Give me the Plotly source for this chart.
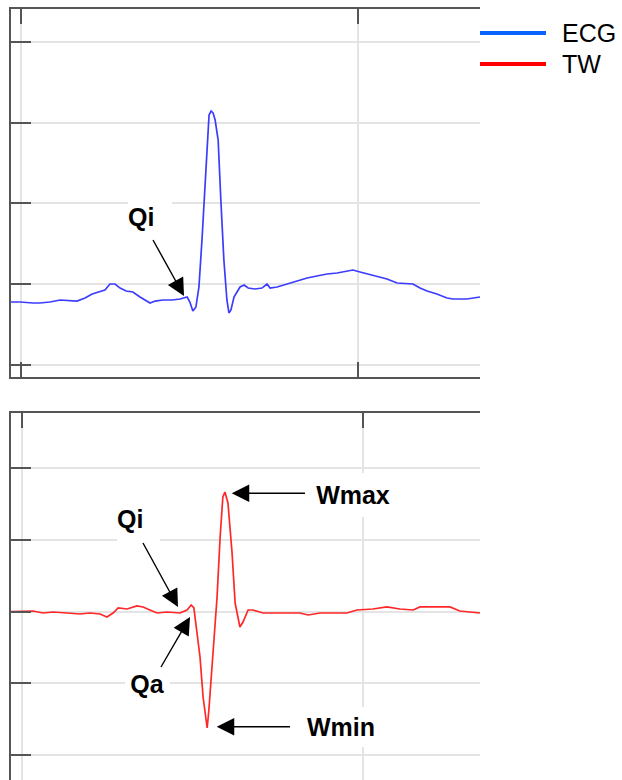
import plotly.graph_objects as go

# ---- ECG lead (top panel): time [s], amplitude [mV] ----
ecg_t = [-0.030, -0.003, 0.036, 0.056, 0.086, 0.116, 0.166, 0.190, 0.211, 0.234,
         0.249, 0.264, 0.279, 0.294, 0.312, 0.332, 0.353, 0.383, 0.398, 0.421,
         0.448, 0.472, 0.493, 0.501, 0.510, 0.519, 0.528, 0.537, 0.546, 0.552,
         0.558, 0.564, 0.570, 0.576, 0.585, 0.593, 0.602, 0.611, 0.617, 0.623,
         0.632, 0.641, 0.650, 0.662, 0.674, 0.694, 0.715, 0.730, 0.739, 0.760,
         0.789, 0.819, 0.849, 0.878, 0.908, 0.938, 0.967, 0.985, 1.006, 1.027,
         1.056, 1.086, 1.116, 1.163, 1.184, 1.205, 1.234, 1.264, 1.282, 1.323,
         1.362]
ecg_mv = [-0.223, -0.223, -0.235, -0.235, -0.223, -0.198, -0.211, -0.173, -0.124, -0.099,
          -0.074, 0.000, 0.000, -0.050, -0.087, -0.099, -0.161, -0.235, -0.211, -0.198,
          -0.198, -0.186, -0.161, -0.223, -0.334, -0.285, -0.037, 0.545, 1.251, 1.783,
          2.093, 2.140, 2.118, 2.031, 1.783, 1.040, 0.297, -0.198, -0.359, -0.322,
          -0.161, -0.099, -0.037, -0.012, -0.050, -0.062, -0.050, 0.000, -0.050, -0.037,
          0.000, 0.037, 0.074, 0.099, 0.124, 0.136, 0.161, 0.173, 0.149, 0.124,
          0.099, 0.062, 0.012, 0.000, -0.050, -0.087, -0.124, -0.173, -0.186, -0.186,
          -0.161]

# ---- TW transform of the same beat (bottom panel) ----
tw_t = [-0.032, 0.032, 0.062, 0.091, 0.132, 0.170, 0.199, 0.229, 0.249, 0.267,
        0.282, 0.308, 0.337, 0.355, 0.375, 0.396, 0.425, 0.463, 0.484, 0.496,
        0.504, 0.513, 0.522, 0.531, 0.543, 0.548, 0.560, 0.572, 0.581, 0.589,
        0.595, 0.604, 0.616, 0.625, 0.639, 0.648, 0.663, 0.677, 0.707, 0.736,
        0.777, 0.815, 0.839, 0.874, 0.953, 0.982, 1.029, 1.070, 1.108, 1.147,
        1.167, 1.205, 1.255, 1.284, 1.343]
tw_val = [0.000, 0.010, -0.018, -0.004, -0.018, -0.032, -0.018, -0.032, -0.074, -0.018,
          0.052, 0.038, 0.080, 0.066, 0.024, -0.018, -0.004, -0.018, 0.024, 0.094,
          0.052, -0.255, -0.632, -1.190, -1.622, -1.371, -0.632, 0.205, 1.042, 1.600,
          1.670, 1.516, 0.819, 0.121, -0.213, -0.144, 0.024, 0.024, -0.018, -0.018,
          -0.018, -0.018, -0.046, -0.018, -0.018, 0.024, 0.038, 0.066, 0.038, 0.024,
          0.066, 0.066, 0.066, 0.010, -0.018]

# grid ticks
x_ticks = [0, 1]
ecg_y_ticks = [-1, 0, 1, 2, 3]
tw_y_ticks = [-2, -1, 0, 1, 2]

# fiducial-point labels: (axis pair, text, x, y, box width, box height, align)
label_text = [
    ("x", "y", "Qi", 0.3828, 0.8297, 44, 46, "left"),
    ("x2", "y2", "Qi", 0.3416, 1.2929, 43, 46, "left"),
    ("x2", "y2", "Qa", 0.3680, -1.0084, 45, 34, "center"),
    ("x2", "y2", "Wmax", 0.9716, 1.6346, 84, 44, "center"),
    ("x2", "y2", "Wmin", 0.9349, -1.6081, 84, 40, "center"),
]
# arrows: (axis pair, tail x, tail y, tip x, tip y)
label_arrows = [
    ("x", "y", 0.3917, 0.545, 0.4837, -0.1486),
    ("x2", "y2", 0.3548, 0.958, 0.4575, 0.0656),
    ("x2", "y2", 0.4076, -0.771, 0.4927, -0.074),
    ("x2", "y2", 0.8299, 1.651, 0.6150, 1.651),
    ("x2", "y2", 0.7859, -1.604, 0.5710, -1.604),
]

FONT = "Arial, Liberation Sans, sans-serif"
AXIS_COL = "#555555"
GRID_COL = "#e4e4e4"

fig = go.Figure()
fig.add_trace(go.Scatter(x=ecg_t, y=ecg_mv, mode="lines", name="ECG",
                         line=dict(color="#3c3cff", width=1.7),
                         xaxis="x", yaxis="y", showlegend=False, hoverinfo="skip"))
fig.add_trace(go.Scatter(x=tw_t, y=tw_val, mode="lines", name="TW",
                         line=dict(color="#ff2828", width=1.7),
                         xaxis="x2", yaxis="y2", showlegend=False, hoverinfo="skip"))

x_dom = [11 / 622, 480 / 622]
common = dict(showticklabels=False, zeroline=False, ticks="inside",
              tickcolor=AXIS_COL, tickwidth=2, linecolor=AXIS_COL, linewidth=2,
              gridcolor=GRID_COL, gridwidth=2)

fig.update_layout(
    width=622, height=780, autosize=False,
    margin=dict(l=0, r=0, t=0, b=0),
    paper_bgcolor="white", plot_bgcolor="white",
    showlegend=False,
    xaxis=dict(domain=x_dom, anchor="y", range=[-0.0297, 1.3620], tickvals=x_ticks,
               showgrid=True, showline=True, mirror="ticks", ticklen=15, **common),
    yaxis=dict(domain=[403 / 780, 771 / 780], anchor="x", range=[-1.1517, 3.4056],
               tickvals=ecg_y_ticks, showgrid=True, showline=True, ticklen=20, **common),
    xaxis2=dict(domain=x_dom, anchor="y2", side="top", range=[-0.0323, 1.3431],
                tickvals=x_ticks, showgrid=True, showline=True, ticklen=15, **common),
    xaxis3=dict(overlaying="x2", anchor="y2", side="bottom", range=[-0.0323, 1.3431],
                tickvals=x_ticks, showgrid=False, showline=False, ticklen=13, **common),
    yaxis2=dict(domain=[0, 367 / 780], anchor="x2", range=[-2.3473, 2.7713],
                tickvals=tw_y_ticks, showgrid=True, showline=True, ticklen=20, **common),
)

annotations = []
for xr, yr, tx, tx_x, tx_y, w, h, al in label_text:
    annotations.append(dict(
        xref=xr, yref=yr, x=tx_x, y=tx_y, text="<b>" + tx + "</b>", showarrow=False,
        xanchor="center", yanchor="middle", width=w, height=h, align=al,
        valign="middle", bgcolor="white", borderpad=0, borderwidth=0,
        font=dict(family=FONT, size=25, color="#000000")))
for xr, yr, x0, y0, x1, y1 in label_arrows:
    annotations.append(dict(
        xref=xr, yref=yr, x=x1, y=y1, axref=xr, ayref=yr, ax=x0, ay=y0,
        text="", showarrow=True, arrowhead=2, arrowsize=2.5, arrowwidth=1.4,
        arrowcolor="#000000", borderpad=0, borderwidth=0))

# legend entries
legend_items = [("ECG", "#0a64ff", 33), ("TW", "#ff0000", 64)]
shapes = []
for name, col, ypix in legend_items:
    yp = (780 - ypix) / 780
    shapes.append(dict(type="line", xref="paper", yref="paper",
                       x0=480 / 622, x1=546 / 622, y0=yp, y1=yp,
                       line=dict(color=col, width=4)))
    annotations.append(dict(xref="paper", yref="paper", x=562 / 622, y=yp,
                            text=name, showarrow=False, xanchor="left", yanchor="middle",
                            borderpad=0, borderwidth=0,
                            font=dict(family=FONT, size=25, color="#000000")))

fig.update_layout(annotations=annotations, shapes=shapes)
fig.write_html("out.html")
